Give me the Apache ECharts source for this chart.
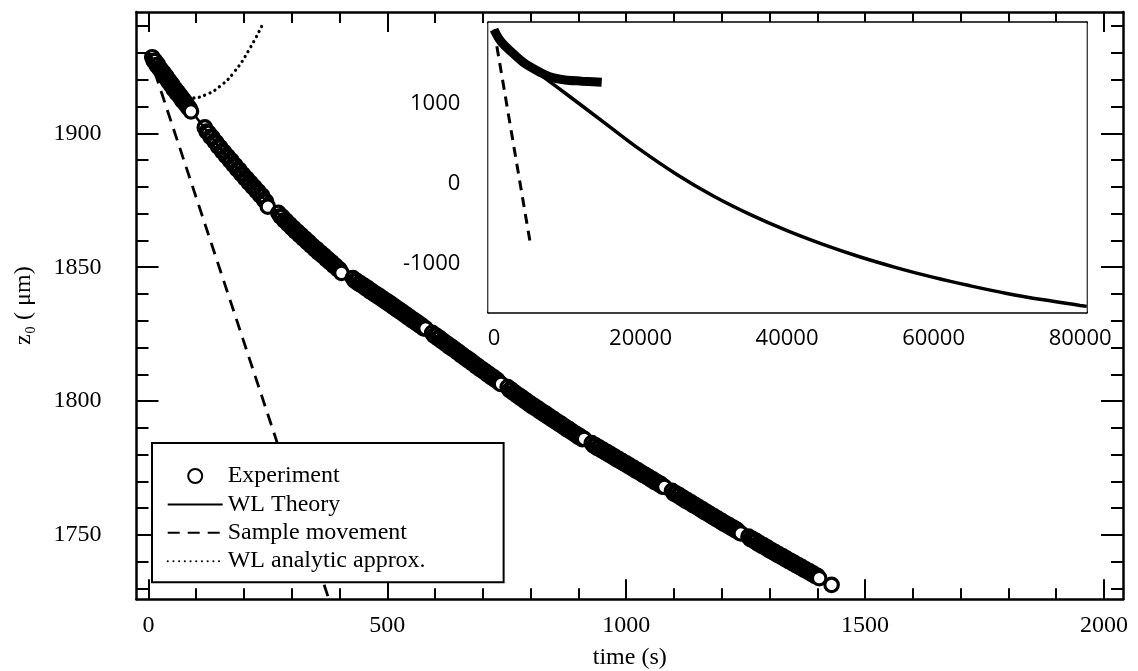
<!DOCTYPE html>
<html>
<head>
<meta charset="utf-8">
<script src="https://cdn.jsdelivr.net/npm/echarts@6/dist/echarts.min.js"></script>
<style>
  html, body { margin: 0; padding: 0; background: #fff; }
  #chart { width: 1138px; height: 671px; }
</style>
</head>
<body>
<div id="chart"></div>
<script>
// ---------- data: probe height z0 (µm) versus time (s) ----------
const experiment = [
  [8,1928.4],[11,1927.1],[14,1927.0],[17,1925.4],[20,1925.6],[23,1924.1],[26,1923.9],[29,1922.5],[32,1922.6],[35,1921.0],
  [38,1921.2],[41,1919.4],[44,1919.6],[47,1918.0],[50,1918.2],[53,1916.4],[56,1916.6],[59,1915.0],[62,1915.3],[65,1913.8],
  [68,1913.9],[71,1912.2],[74,1912.5],[77,1911.0],[80,1911.1],[83,1909.6],[86,1909.4],[89,1908.2],
  [118,1902.2],[122,1900.6],[126,1900.2],[130,1898.7],[134,1898.5],[138,1897.0],[142,1896.6],[146,1895.0],[150,1894.8],[154,1893.3],
  [158,1893.1],[162,1891.6],[166,1891.4],[170,1889.9],[174,1889.8],[178,1888.2],[182,1888.0],[186,1886.5],[190,1886.4],[194,1884.9],
  [198,1884.7],[202,1883.2],[206,1883.1],[210,1881.6],[214,1881.5],[218,1880.0],[222,1879.9],[226,1878.4],[230,1878.3],[234,1876.8],
  [238,1876.7],[242,1875.1],[246,1874.6],[250,1872.6],
  [272,1870.3],[276,1869.0],[280,1868.9],[284,1867.5],[288,1867.4],[292,1866.1],[296,1866.0],[300,1864.7],[304,1864.6],[308,1863.3],
  [312,1863.3],[316,1862.0],[320,1862.0],[324,1860.7],[328,1860.7],[332,1859.4],[336,1859.4],[340,1858.1],[344,1858.0],[348,1856.8],
  [352,1856.8],[356,1855.5],[360,1855.5],[364,1854.3],[368,1854.3],[372,1853.0],[376,1853.0],[380,1851.8],[384,1851.8],[388,1850.5],
  [392,1850.5],[396,1849.3],[400,1849.2],[404,1847.9],
  [428,1845.9],[432,1844.9],[436,1844.9],[440,1843.9],[444,1844.0],[448,1843.0],[452,1843.0],[456,1842.0],[460,1842.1],[464,1841.0],
  [468,1841.1],[472,1840.1],[476,1840.1],[480,1839.1],[484,1839.2],[488,1838.2],[492,1838.2],[496,1837.2],[500,1837.3],[504,1836.2],
  [508,1836.3],[512,1835.2],[516,1835.3],[520,1834.2],[524,1834.3],[528,1833.2],[532,1833.3],[536,1832.2],[540,1832.3],[544,1831.2],
  [548,1831.3],[552,1830.2],[556,1830.3],[560,1829.2],[564,1829.3],[568,1828.2],[572,1828.3],[576,1827.2],[580,1827.2],
  [594,1825.5],[598,1824.5],[602,1824.5],[606,1823.4],[610,1823.5],[614,1822.4],[618,1822.4],[622,1821.4],[626,1821.4],[630,1820.3],
  [634,1820.4],[638,1819.3],[642,1819.3],[646,1818.3],[650,1818.3],[654,1817.2],[658,1817.2],[662,1816.2],[666,1816.2],[670,1815.1],
  [674,1815.2],[678,1814.1],[682,1814.1],[686,1813.0],[690,1813.1],[694,1812.0],[698,1812.0],[702,1811.0],[706,1811.0],[710,1809.9],
  [714,1810.0],[718,1808.9],[722,1809.0],[726,1807.9],[730,1807.9],[734,1806.9],[738,1806.4],
  [752,1805.2],[756,1804.1],[760,1804.2],[764,1803.1],[768,1803.1],[772,1802.1],[776,1802.1],[780,1801.0],[784,1801.1],[788,1800.0],
  [792,1800.1],[796,1799.0],[800,1799.1],[804,1798.0],[808,1798.1],[812,1797.1],[816,1797.2],[820,1796.1],[824,1796.2],[828,1795.2],
  [832,1795.3],[836,1794.2],[840,1794.3],[844,1793.3],[848,1793.4],[852,1792.4],[856,1792.4],[860,1791.4],[864,1791.5],[868,1790.5],
  [872,1790.5],[876,1789.5],[880,1789.6],[884,1788.6],[888,1788.6],[892,1787.7],[896,1787.7],[900,1786.7],[904,1786.8],[908,1785.8],
  [912,1785.9],
  [928,1784.3],[932,1783.4],[936,1783.5],[940,1782.5],[944,1782.6],[948,1781.7],[952,1781.8],[956,1780.9],[960,1781.0],[964,1780.0],
  [968,1780.1],[972,1779.2],[976,1779.3],[980,1778.3],[984,1778.4],[988,1777.5],[992,1777.6],[996,1776.7],[1000,1776.8],[1004,1775.8],
  [1008,1775.9],[1012,1775.0],[1016,1775.1],[1020,1774.1],[1024,1774.2],[1028,1773.3],[1032,1773.3],[1036,1772.4],[1040,1772.5],[1044,1771.6],
  [1048,1771.6],[1052,1770.7],[1056,1770.8],[1060,1769.8],[1064,1769.9],[1068,1769.0],[1072,1769.1],[1076,1768.1],[1080,1768.0],
  [1096,1766.5],[1100,1765.5],[1104,1765.6],[1108,1764.7],[1112,1764.8],[1116,1763.8],[1120,1763.9],[1124,1762.9],[1128,1763.0],[1132,1762.1],
  [1136,1762.2],[1140,1761.2],[1144,1761.3],[1148,1760.4],[1152,1760.4],[1156,1759.5],[1160,1759.6],[1164,1758.6],[1168,1758.7],[1172,1757.8],
  [1176,1757.8],[1180,1756.9],[1184,1757.0],[1188,1756.0],[1192,1756.1],[1196,1755.2],[1200,1755.3],[1204,1754.3],[1208,1754.4],[1212,1753.5],
  [1216,1753.6],[1220,1752.7],[1224,1752.8],[1228,1751.8],[1232,1751.9],[1236,1751.0],[1240,1750.6],
  [1256,1749.4],[1260,1748.5],[1264,1748.6],[1268,1747.7],[1272,1747.8],[1276,1746.8],[1280,1746.9],[1284,1746.0],[1288,1746.1],[1292,1745.2],
  [1296,1745.3],[1300,1744.3],[1304,1744.4],[1308,1743.5],[1312,1743.6],[1316,1742.7],[1320,1742.8],[1324,1741.9],[1328,1742.0],[1332,1741.1],
  [1336,1741.2],[1340,1740.3],[1344,1740.4],[1348,1739.5],[1352,1739.6],[1356,1738.7],[1360,1738.8],[1364,1737.9],[1368,1738.0],[1372,1737.1],
  [1376,1737.2],[1380,1736.3],[1384,1736.4],[1388,1735.5],[1392,1735.6],[1396,1734.7],[1400,1734.8],[1404,1733.9],[1430,1731.4]
];

const wlTheory = [
  [0,1930],[50,1917.5],[100,1906],[150,1894.5],[200,1884],[250,1874],[300,1865],[350,1856.8],[400,1849],[500,1837],
  [600,1824.5],[700,1811.5],[800,1798.8],[900,1787],[1000,1776.5],[1100,1765.8],[1200,1755],[1300,1744.6],[1400,1734.6],[1440,1730.8]
];

const sampleMovement = [[0,1930],[5000,-770]];

const wlAnalytic = [
  [0,1928],[30,1920.5],[60,1915.5],[90,1913.2],[120,1914.4],[150,1917.6],[180,1923.0],[210,1931.0],[239,1940.7]
];

// long-time run shown in the inset
const experimentLong = [
  [0,1930],[700,1812],[1430,1731],[2500,1640],[4000,1520],[5200,1450],[6300,1395],[7500,1345],[8500,1318],
  [10000,1297],[12000,1285],[14700,1270]
];

const wlTheoryLong = [
  [0,1930],[1450,1730],[3000,1600],[5000,1455],[7500,1285],[10000,1115],[15000,770],[20000,425],[25000,115],
  [30000,-155],[35000,-385],[40000,-585],[45000,-760],[50000,-915],[55000,-1050],[60000,-1170],[65000,-1275],
  [70000,-1370],[75000,-1450],[80000,-1520],[80900,-1532]
];

// tick labels
const mainXLabels = [0, 500, 1000, 1500, 2000];
const mainYLabels = [1750, 1800, 1850, 1900];
const insetXLabels = [0, 20000, 40000, 60000, 80000];
const insetYLabels = [-1000, 0, 1000];

// ---------- axes ----------
function steps(a, b, s) {
  const out = [];
  for (let v = a; v <= b + 1e-9; v += s) out.push(Math.round(v));
  return out;
}
const mainXMinor = steps(0, 2000, 100).filter(v => v % 500 !== 0);
const mainYMinor = steps(1730, 1940, 10).filter(v => v % 50 !== 0);
const insetXMid = [10000, 30000, 50000, 70000];
const insetXMinor = steps(0, 80000, 2000).filter(v => v % 10000 !== 0);
const insetYMinor = [-1500, -500, 500, 1500];

const MAIN_X = [-25, 2040];
const MAIN_Y = [1726, 1945.3];
const INSET_X = [-780, 80900];
const INSET_Y = [-1605, 2016];

const serif = 'Liberation Serif';
const sans = 'Open Sans';

function axis(grid, pos, range, ticks, len, o) {
  o = o || {};
  return {
    type: 'value',
    gridIndex: grid,
    position: pos,
    min: range[0],
    max: range[1],
    scale: true,
    axisLine: { show: !!o.line, onZero: false, lineStyle: { color: '#000', width: o.lineWidth || 2.5 } },
    axisTick: { show: true, inside: true, length: len, customValues: ticks,
                lineStyle: { color: '#000', width: o.tickWidth || 2 } },
    axisLabel: o.label ? Object.assign({
      show: true, customValues: ticks, color: '#000',
      formatter: v => String(v)
    }, o.label) : { show: false },
    splitLine: { show: false },
    minorTick: { show: false },
    name: o.name || '',
    nameLocation: 'middle',
    nameGap: o.nameGap || 0,
    nameRotate: o.nameRotate,
    nameTextStyle: o.nameTextStyle,
    silent: true
  };
}

const xAxes = [
  // main plot frame (grid 0)
  axis(0, 'bottom', MAIN_X, mainXLabels, 20, {
    line: true,
    label: { fontFamily: serif, fontSize: 24, margin: 14 },
    name: 'time (s)', nameGap: 46,
    nameTextStyle: { fontFamily: serif, fontSize: 24, color: '#000' }
  }),
  axis(0, 'bottom', MAIN_X, mainXMinor, 11),
  axis(0, 'top', MAIN_X, mainXLabels, 20, { line: true }),
  axis(0, 'top', MAIN_X, mainXMinor, 11),
  // inset frame (grid 1)
  axis(1, 'bottom', INSET_X, insetXLabels, 19, {
    line: true, label: { fontFamily: sans, fontSize: 22, margin: 16 }
  }),
  axis(1, 'bottom', INSET_X, insetXMid, 13),
  axis(1, 'bottom', INSET_X, insetXMinor, 8),
  axis(1, 'top', INSET_X, insetXLabels, 19, { line: true }),
  axis(1, 'top', INSET_X, insetXMid, 13),
  axis(1, 'top', INSET_X, insetXMinor, 8)
];

const yAxes = [
  axis(0, 'left', MAIN_Y, mainYLabels, 22, {
    line: true,
    label: { fontFamily: serif, fontSize: 24, margin: 35 },
    name: 'z\u2080 ( \u03bcm)', nameGap: 101, nameRotate: 90,
    nameTextStyle: { fontFamily: serif, fontSize: 24, color: '#000' }
  }),
  axis(0, 'left', MAIN_Y, mainYMinor, 12),
  axis(0, 'right', MAIN_Y, mainYLabels, 22, { line: true }),
  axis(0, 'right', MAIN_Y, mainYMinor, 12),
  axis(1, 'left', INSET_Y, insetYLabels, 20, {
    line: true, label: { fontFamily: sans, fontSize: 22, margin: 28 }
  }),
  axis(1, 'left', INSET_Y, insetYMinor, 11),
  axis(1, 'right', INSET_Y, insetYLabels, 20, { line: true }),
  axis(1, 'right', INSET_Y, insetYMinor, 11)
];

// the last circle of each recorded run is drawn open (white inside)
const experimentItems = experiment.map((p, i) => {
  const next = experiment[i + 1];
  const runEnd = !next || next[0] - p[0] > 10;
  return runEnd ? { value: p, itemStyle: { color: '#fff' } } : p;
});

// ---------- chart ----------
const chart = echarts.init(document.getElementById('chart'), null, { renderer: 'canvas' });

const hideSymbol = { opacity: 0 };

chart.setOption({
  animation: false,
  backgroundColor: '#fff',
  textStyle: { fontFamily: serif, color: '#000' },
  grid: [
    { left: 136.5, top: 12, width: 986.5, height: 587.3, containLabel: false, outerBoundsMode: 'none' },
    { left: 488.3, top: 22.7, width: 598.4, height: 289.5, containLabel: false, outerBoundsMode: 'none',
      show: true, backgroundColor: '#fff', borderWidth: 0, z: 1 }
  ],
  xAxis: xAxes,
  yAxis: yAxes,
  legend: {
    orient: 'vertical',
    left: 152,
    top: 443,
    itemWidth: 55,
    itemHeight: 14,
    itemGap: 4.4,
    padding: [21, 78, 9, 14.7],
    backgroundColor: '#fff',
    borderColor: '#000',
    borderWidth: 2,
    borderRadius: 0,
    selectedMode: false,
    textStyle: { fontFamily: serif, fontSize: 24, color: '#000' },
    data: [
      { name: 'Experiment', icon: 'circle',
        itemStyle: { color: '#fff', borderColor: '#000', borderWidth: 2 } },
      { name: 'WL Theory', itemStyle: hideSymbol },
      { name: 'Sample movement', itemStyle: hideSymbol },
      { name: 'WL analytic approx.', itemStyle: hideSymbol }
    ],
    z: 10
  },
  series: [
    {
      name: 'Sample movement', type: 'line', xAxisIndex: 0, yAxisIndex: 0,
      data: sampleMovement, symbol: 'none', silent: true, z: 2,
      itemStyle: { color: '#000' },
      lineStyle: { color: '#000', width: 2.8, type: [12, 8] }
    },
    {
      name: 'WL analytic approx.', type: 'line', xAxisIndex: 0, yAxisIndex: 0,
      data: wlAnalytic, symbol: 'none', smooth: 0.5, silent: true, z: 2,
      itemStyle: { color: '#000' },
      lineStyle: { color: '#000', width: 3.2, type: [0.1, 5.6], cap: 'round' }
    },
    {
      name: 'WL Theory', type: 'line', xAxisIndex: 0, yAxisIndex: 0,
      data: wlTheory, symbol: 'none', smooth: 0.3, silent: true, z: 2,
      itemStyle: { color: '#000' },
      lineStyle: { color: '#000', width: 2.6 }
    },
    {
      name: 'Experiment', type: 'scatter', xAxisIndex: 0, yAxisIndex: 0,
      data: experimentItems, symbol: 'circle', symbolSize: 13.5, silent: true, z: 3,
      itemStyle: { color: 'rgba(255,255,255,0)', borderColor: '#000', borderWidth: 3.2, opacity: 1 }
    },
    // inset: long-time behaviour
    {
      name: 'Sample movement', type: 'line', xAxisIndex: 4, yAxisIndex: 4,
      data: sampleMovement, symbol: 'none', silent: true, z: 4,
      lineStyle: { color: '#000', width: 3, type: [10, 7] }
    },
    {
      name: 'WL Theory', type: 'line', xAxisIndex: 4, yAxisIndex: 4,
      data: wlTheoryLong, symbol: 'none', smooth: 0.4, silent: true, z: 4,
      lineStyle: { color: '#000', width: 3.5 }
    },
    {
      name: 'Experiment', type: 'line', xAxisIndex: 4, yAxisIndex: 4,
      data: experimentLong, symbol: 'none', smooth: 0.4, silent: true, z: 5,
      lineStyle: { color: '#000', width: 9, cap: 'butt' }
    }
  ]
});
</script>
</body>
</html>
